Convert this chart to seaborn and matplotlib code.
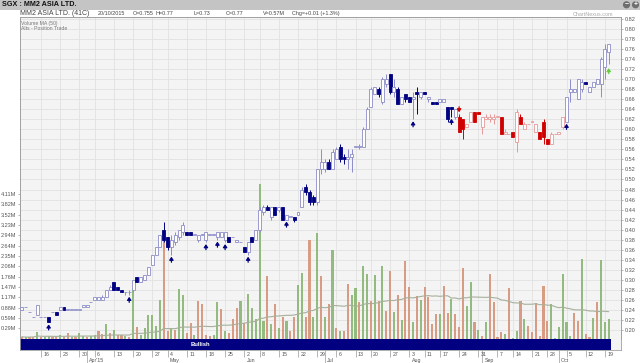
import numpy as np
import pandas as pd
import matplotlib
matplotlib.use("Agg")
import matplotlib.pyplot as plt
import seaborn as sns
from matplotlib.patches import Rectangle, Circle
from matplotlib.transforms import blended_transform_factory, IdentityTransform

sns.set_theme(style="white")
plt.rcParams["font.family"] = ["Liberation Sans", "DejaVu Sans"]

# ---------------- data ----------------
holidays = ["2015-04-03", "2015-05-01", "2015-06-01", "2015-07-17",
            "2015-08-07", "2015-08-10", "2015-09-11", "2015-09-24"]
days = pd.bdate_range("2015-03-09", "2015-10-20")
days = days[~days.isin(pd.to_datetime(holidays))]

opens = [0.24, 0.245, 0.235, 0.225, 0.23, 0.225, 0.225, 0.225, 0.235, 0.235,
         0.24, 0.245, 0.24, 0.24, 0.24, 0.24, 0.245, 0.245, 0.255, 0.26,
         0.26, 0.26, 0.265, 0.28, 0.295, 0.285, 0.28, 0.275, 0.275, 0.28,
         0.305, 0.295, 0.30, 0.31, 0.33, 0.35, 0.365, 0.40, 0.385, 0.365,
         0.375, 0.385, 0.395, 0.395, 0.395, 0.39, 0.38, 0.39, 0.38, 0.39,
         0.39, 0.385, 0.385, 0.38, 0.385, 0.385, 0.375, 0.375, 0.365, 0.355,
         0.385, 0.38, 0.40, 0.435, 0.445, 0.425, 0.445, 0.44, 0.445, 0.42,
         0.425, 0.425, 0.43, 0.445, 0.485, 0.475, 0.465, 0.455, 0.52, 0.52,
         0.535, 0.52, 0.54, 0.565, 0.545, 0.54, 0.545, 0.565, 0.565, 0.565,
         0.60, 0.645, 0.67, 0.68, 0.655, 0.69, 0.71, 0.675, 0.68, 0.65,
         0.67, 0.665, 0.66, 0.675, 0.665, 0.675, 0.66, 0.655, 0.655, 0.655,
         0.655, 0.645, 0.645, 0.625, 0.625, 0.62, 0.605, 0.615, 0.635, 0.635,
         0.605, 0.62, 0.62, 0.62, 0.625, 0.625, 0.59, 0.59, 0.595, 0.575,
         0.625, 0.60, 0.61, 0.615, 0.595, 0.595, 0.615, 0.58, 0.57, 0.59,
         0.59, 0.605, 0.615, 0.675, 0.675, 0.66, 0.68, 0.695, 0.675, 0.685,
         0.69, 0.69, 0.725, 0.755]
highs = [0.245, 0.245, 0.235, 0.225, 0.25, 0.225, 0.225, 0.225, 0.235, 0.235,
         0.245, 0.245, 0.24, 0.24, 0.24, 0.24, 0.25, 0.25, 0.255, 0.265,
         0.265, 0.27, 0.28, 0.29, 0.295, 0.285, 0.28, 0.275, 0.28, 0.30,
         0.305, 0.305, 0.31, 0.325, 0.35, 0.365, 0.39, 0.415, 0.385, 0.39,
         0.395, 0.40, 0.415, 0.395, 0.395, 0.39, 0.39, 0.39, 0.395, 0.39,
         0.39, 0.395, 0.395, 0.395, 0.385, 0.385, 0.38, 0.375, 0.365, 0.375,
         0.385, 0.40, 0.445, 0.45, 0.45, 0.445, 0.445, 0.445, 0.445, 0.43,
         0.425, 0.425, 0.435, 0.485, 0.49, 0.48, 0.47, 0.52, 0.56, 0.54,
         0.54, 0.56, 0.565, 0.57, 0.55, 0.56, 0.56, 0.565, 0.57, 0.605,
         0.645, 0.685, 0.685, 0.685, 0.705, 0.71, 0.71, 0.70, 0.685, 0.665,
         0.67, 0.665, 0.675, 0.685, 0.675, 0.675, 0.665, 0.655, 0.655, 0.66,
         0.66, 0.645, 0.645, 0.64, 0.63, 0.62, 0.61, 0.635, 0.635, 0.635,
         0.625, 0.63, 0.63, 0.63, 0.625, 0.625, 0.60, 0.59, 0.595, 0.64,
         0.63, 0.615, 0.61, 0.615, 0.61, 0.595, 0.62, 0.58, 0.595, 0.59,
         0.595, 0.625, 0.665, 0.70, 0.68, 0.70, 0.70, 0.695, 0.685, 0.695,
         0.70, 0.745, 0.77, 0.77]
lows = [0.24, 0.245, 0.235, 0.225, 0.23, 0.225, 0.225, 0.215, 0.235, 0.23,
        0.24, 0.24, 0.24, 0.24, 0.24, 0.24, 0.245, 0.245, 0.255, 0.26,
        0.26, 0.26, 0.265, 0.28, 0.28, 0.28, 0.275, 0.27, 0.27, 0.275,
        0.295, 0.295, 0.30, 0.31, 0.33, 0.35, 0.365, 0.375, 0.36, 0.35,
        0.37, 0.38, 0.39, 0.39, 0.39, 0.39, 0.375, 0.39, 0.375, 0.39,
        0.39, 0.38, 0.385, 0.375, 0.375, 0.385, 0.375, 0.375, 0.355, 0.35,
        0.375, 0.38, 0.395, 0.43, 0.44, 0.42, 0.43, 0.435, 0.42, 0.42,
        0.425, 0.415, 0.43, 0.445, 0.47, 0.45, 0.45, 0.45, 0.51, 0.515,
        0.52, 0.52, 0.54, 0.535, 0.53, 0.52, 0.515, 0.565, 0.56, 0.565,
        0.60, 0.645, 0.67, 0.665, 0.65, 0.685, 0.67, 0.665, 0.65, 0.65,
        0.655, 0.655, 0.62, 0.63, 0.66, 0.67, 0.655, 0.65, 0.65, 0.655,
        0.655, 0.615, 0.625, 0.62, 0.595, 0.58, 0.605, 0.615, 0.615, 0.63,
        0.59, 0.62, 0.615, 0.61, 0.625, 0.59, 0.59, 0.59, 0.585, 0.555,
        0.61, 0.60, 0.61, 0.615, 0.595, 0.58, 0.57, 0.57, 0.57, 0.59,
        0.59, 0.60, 0.615, 0.655, 0.675, 0.66, 0.675, 0.69, 0.675, 0.685,
        0.69, 0.665, 0.70, 0.73]
closes = [0.245, 0.245, 0.235, 0.225, 0.25, 0.225, 0.225, 0.215, 0.235, 0.23,
          0.245, 0.24, 0.24, 0.24, 0.24, 0.24, 0.25, 0.25, 0.255, 0.265,
          0.265, 0.265, 0.28, 0.285, 0.28, 0.28, 0.275, 0.275, 0.275, 0.30,
          0.295, 0.305, 0.31, 0.325, 0.35, 0.365, 0.39, 0.38, 0.365, 0.38,
          0.39, 0.40, 0.41, 0.39, 0.39, 0.39, 0.39, 0.39, 0.395, 0.39,
          0.39, 0.395, 0.395, 0.395, 0.375, 0.385, 0.38, 0.375, 0.355, 0.375,
          0.375, 0.40, 0.44, 0.445, 0.44, 0.445, 0.43, 0.445, 0.42, 0.43,
          0.425, 0.42, 0.435, 0.48, 0.475, 0.455, 0.455, 0.52, 0.535, 0.535,
          0.52, 0.555, 0.56, 0.54, 0.54, 0.545, 0.55, 0.565, 0.565, 0.60,
          0.64, 0.68, 0.685, 0.67, 0.70, 0.70, 0.675, 0.685, 0.65, 0.665,
          0.66, 0.655, 0.665, 0.67, 0.675, 0.67, 0.665, 0.65, 0.65, 0.66,
          0.66, 0.62, 0.64, 0.64, 0.595, 0.60, 0.61, 0.635, 0.615, 0.63,
          0.625, 0.625, 0.625, 0.625, 0.625, 0.59, 0.595, 0.59, 0.585, 0.635,
          0.61, 0.61, 0.61, 0.615, 0.61, 0.58, 0.585, 0.57, 0.59, 0.59,
          0.595, 0.625, 0.665, 0.68, 0.68, 0.70, 0.695, 0.69, 0.685, 0.695,
          0.70, 0.74, 0.76, 0.77]
volumes_m = [0.05, 0.03, 0.04, 0.05, 0.19, 0.03, 0.04, 0.08, 0.03, 0.05,
             0.10, 0.04, 0.15, 0.03, 0.05, 0.15, 0.06, 0.05, 0.08, 0.10,
             0.21, 0.12, 0.41, 0.15, 0.24, 0.10, 0.10, 0.06, 0.05, 1.43,
             0.33, 0.10, 0.30, 0.66, 0.66, 0.35, 1.09, 2.99, 0.20, 0.30,
             0.25, 1.40, 1.23, 0.15, 0.43, 0.10, 1.06, 0.97, 0.10, 0.08,
             0.10, 1.04, 0.83, 0.20, 0.15, 0.57, 0.88, 1.06, 0.43, 1.28,
             0.88, 0.57, 4.39, 0.50, 1.78, 0.40, 0.97, 0.30, 0.60, 0.50,
             0.20, 0.60, 1.52, 1.87, 0.60, 2.82, 0.62, 3.00, 1.78, 0.62,
             0.97, 2.52, 0.29, 0.21, 0.21, 1.55, 1.25, 1.43, 1.04, 2.06,
             1.83, 1.06, 1.80, 1.08, 2.08, 0.79, 1.93, 0.76, 1.25, 0.52,
             2.21, 1.47, 0.48, 1.22, 1.11, 1.47, 1.18, 0.41, 0.69, 0.69,
             1.51, 0.74, 1.12, 0.71, 0.33, 2.00, 0.94, 1.60, 0.46, 0.24,
             0.08, 0.48, 1.83, 1.03, 0.05, 0.19, 0.13, 1.43, 0.02, 0.20,
             1.06, 0.57, 0.35, 0.19, 1.00, 0.07, 1.51, 0.50, 0.97, 0.02,
             0.33, 1.83, 0.47, 0.07, 0.74, 0.50, 2.26, 0.14, 0.05, 0.59,
             1.05, 2.23, 0.46, 0.57]
volume_dir = ("rgrrgrggrr" "grrgrggrgg" "rrgrgrrgrg" "rggggggrrg" "rggrrgrrrr"
              "ggrgrrrgrg" "ggggrgrgrg" "rrggrrggrg" "rgrgrrggrg" "grgrgrrgrg"
              "rrgrgrrrrg" "rrgrrrggrg" "rgrrrrgrgg" "rgrrrrrrgg" "ggggrrgrrg"
              "rggg")
buy_signals = [7, 28, 39, 48, 51, 53, 59, 69, 102, 112, 142]
sell_signals = [114]
green_signals = [153]
vol_ticks_m = [0.29, 0.59, 0.88, 1.17, 1.47, 1.76, 2.06, 2.35, 2.64, 2.94,
               3.23, 3.52, 3.82, 4.11]
price_ticks = [0.20, 0.22, 0.24, 0.26, 0.28, 0.30, 0.32, 0.34, 0.36, 0.38,
               0.40, 0.42, 0.44, 0.46, 0.48, 0.50, 0.52, 0.54, 0.56, 0.58,
               0.60, 0.62, 0.64, 0.66, 0.68, 0.70, 0.72, 0.74, 0.76, 0.78,
               0.80, 0.82]
state_label = "Bullish"

O = np.array(opens); Hh = np.array(highs); Lw = np.array(lows); C = np.array(closes)
V = np.array(volumes_m)
n = len(days)
idx = np.arange(n)

# red phase: from a sell signal until the next buy signal
red_phase = np.zeros(n, bool)
for s in sell_signals:
    nxt = [b for b in buy_signals if b > s]
    e = nxt[0] if nxt else n
    red_phase[s:e] = True

vol_df = pd.DataFrame({"i": idx, "vol": V, "dir": list(volume_dir)})
vol_df["ma"] = vol_df["vol"].rolling(50, min_periods=1).mean()

# ---------------- figure ----------------
W, H = 640, 363
fig = plt.figure(figsize=(6.4, 3.63), dpi=100)
fig.patch.set_facecolor("white")
def fx(px): return px / W
def fy(py): return 1 - py / H

L, R, T, B = 19.5, 621.0, 17.0, 338.5
BG = "#f4f4f4"; GRID = "#e2e2e2"; FRAME = "#a0a0a0"
ax_vol = fig.add_axes([fx(L), fy(B), fx(R) - fx(L), (B - T) / H])
ax_price = ax_vol.twinx()
ax_band = fig.add_axes([fx(L), fy(349.5), fx(R) - fx(L), (349.5 - 339.0) / H])

xmin, xmax = -0.6, 156.2
vmax = (B - T) * 0.0285
pmin, pmax = 0.82 - (B - 19) / 501.5, 0.82 + (19 - T) / 501.5

# weekly / monthly positions
wk = days.isocalendar().week.values
week_idx = [i for i in range(1, n) if wk[i] != wk[i - 1]]
month_idx = [i for i in range(1, n) if days[i].month != days[i - 1].month]

# volume panel (base)
ax_vol.set_facecolor(BG)
ax_vol.vlines(week_idx, 0, vmax, color=GRID, lw=0.6, zorder=0)
tr = blended_transform_factory(ax_vol.transAxes, ax_price.transData)
ax_vol.hlines(price_ticks, 0, 1, transform=tr, color=GRID, lw=0.6, zorder=0)
sns.barplot(data=vol_df, x="i", y="vol", hue="dir", native_scale=True,
            palette={"g": "#93bb80", "r": "#d89c84"}, dodge=False,
            errorbar=None, width=0.55, linewidth=0, saturation=1,
            legend=False, ax=ax_vol, zorder=2)
sns.lineplot(data=vol_df, x="i", y="ma", color="#a7b09a", lw=0.8, ax=ax_vol, zorder=3)
ax_vol.set_xlim(xmin, xmax)
ax_vol.set_ylim(0, vmax)
ax_vol.set_xlabel(""); ax_vol.set_ylabel("")
ax_vol.set_xticks([])
ax_vol.set_yticks([v for v in vol_ticks_m])
ax_vol.set_yticklabels([f"{v:.2f}M" for v in vol_ticks_m])
ax_vol.tick_params(axis="y", left=True, length=1.5, width=0.5, color="#999",
                   labelsize=4, labelcolor="#555", pad=1)
for sp in ax_vol.spines.values():
    sp.set_color(FRAME); sp.set_linewidth(0.6)

# price panel (overlay)
ax_price.patch.set_visible(False)
up = C >= O
face, edge = [], []
for i in range(n):
    if red_phase[i]:
        face.append("white" if up[i] else "#d00000")
        edge.append("#e69a9a" if up[i] else "#d00000")
    else:
        face.append("white" if up[i] else "#000080")
        edge.append("#8c8cc8" if up[i] else "#000080")
ax_price.vlines(idx, Lw, Hh, colors=edge, lw=0.7, zorder=3)
ax_price.bar(idx, np.maximum(np.abs(C - O), 0.0012), bottom=np.minimum(O, C),
             width=0.78, color=face, edgecolor=edge, lw=0.6, zorder=4)

def arrow(i, tip, tail, col):
    ax_price.annotate("", xy=(i, tip), xytext=(i, tail),
                      arrowprops=dict(arrowstyle="-|>,head_width=0.55,head_length=0.8",
                                      color=col, lw=0.9, shrinkA=0, shrinkB=0,
                                      mutation_scale=2.2), zorder=6)
for b in buy_signals:
    arrow(b, Lw[b] - 0.004, Lw[b] - 0.015, "#000080")
for s in sell_signals:
    arrow(s, Hh[s] + 0.004, Hh[s] + 0.015, "#d00000")
for g in green_signals:
    arrow(g, Lw[g] - 0.008, Lw[g] - 0.019, "#66cc44")

ax_price.set_xlim(xmin, xmax)
ax_price.set_ylim(pmin, pmax)
ax_price.set_yticks(price_ticks)
ax_price.set_yticklabels([f"{v:.2f}" for v in price_ticks])
ax_price.tick_params(axis="y", right=True, length=1.5, width=0.5, color="#999",
                     labelsize=4, labelcolor="#555", pad=1)
for sp in ax_price.spines.values():
    sp.set_color(FRAME); sp.set_linewidth(0.6)

# state band + date axis
ax_band.set_facecolor(BG)
ax_band.axvspan(xmin, n - 0.5, color="#000080", lw=0)
ax_band.text(46.5, 0.5, state_label, color="white", fontsize=4.2,
             fontweight="bold", ha="center", va="center",
             transform=blended_transform_factory(ax_band.transData, ax_band.transAxes))
ax_band.set_xlim(xmin, xmax)
ax_band.set_ylim(0, 1)
ax_band.set_yticks([])
ax_band.set_xticks(week_idx)
ax_band.set_xticklabels([])
ax_band.set_xticks(month_idx, minor=True)
ax_band.tick_params(axis="x", which="major", bottom=True, length=5, width=0.5,
                    color="#999", direction="out")
ax_band.tick_params(axis="x", which="minor", bottom=True, length=10, width=0.5,
                    color="#999", direction="out")
ax_band.spines["top"].set_visible(False)
for sp in ["left", "right", "bottom"]:
    ax_band.spines[sp].set_color(FRAME); ax_band.spines[sp].set_linewidth(0.6)
trb = blended_transform_factory(ax_band.transData, fig.transFigure)
for i in week_idx:
    ax_band.text(i + 0.6, fy(354), str(days[i].day), fontsize=3.8, color="#555",
                 ha="left", va="center", transform=trb, clip_on=False)
for k, i in enumerate(month_idx):
    lab = days[i].strftime("%b") + ("'" + days[i].strftime("%y") if k == 0 else "")
    ax_band.text(i + 0.6, fy(360.5), lab, fontsize=3.8, color="#555",
                 ha="left", va="center", transform=trb, clip_on=False)

# title bar and header
fig.patches.append(Rectangle((0, fy(10)), 1, 10 / H, transform=fig.transFigure,
                             facecolor="#c4c4c4", edgecolor="none", zorder=0))
fig.text(fx(1.5), fy(5), "SGX : MM2 ASIA LTD.", fontsize=5.2, fontweight="bold",
         color="#111", ha="left", va="center")
for cx, sym in [(626.5, "\u2212"), (635.5, "+")]:
    fig.patches.append(Circle((cx, H - 4.8), 3.6, transform=IdentityTransform(),
                              facecolor="#6e6e6e", edgecolor="none"))
    fig.text(fx(cx), fy(4.9), sym, fontsize=5, fontweight="bold", color="white",
             ha="center", va="center")
d = days[-1]
hdr = [(20.5, "MM2 ASIA LTD. (41C)", 5.0),
       (97.5, d.strftime("%d/%m/%Y"), 3.9),
       (133, f"O={O[-1]:g}", 3.9), (155, f"H={Hh[-1]:g}", 3.9),
       (193, f"L={Lw[-1]:g}", 3.9), (226, f"C={C[-1]:g}", 3.9),
       (263, f"V={V[-1]:.2f}M", 3.9),
       (291.5, f"Chg=+{C[-1] - C[-2]:.2f} (+{(C[-1] / C[-2] - 1) * 100:.1f}%)", 3.9)]
for x, s, fs in hdr:
    fig.text(fx(x), fy(13.6), s, fontsize=fs, color="#444", ha="left", va="center")
fig.text(fx(613), fy(14), "ChartNexus.com", fontsize=3.9, color="#aaaaaa",
         ha="right", va="center")
ax_vol.text(0.003, fy(23.3), "Volume MA (50)", fontsize=3.7, color="#777",
            transform=blended_transform_factory(ax_vol.transAxes, fig.transFigure),
            ha="left", va="center")
ax_vol.text(0.003, fy(29), "Alts - Position Trade", fontsize=3.7, color="#777",
            transform=blended_transform_factory(ax_vol.transAxes, fig.transFigure),
            ha="left", va="center")

fig.savefig("out.png", dpi=100)
